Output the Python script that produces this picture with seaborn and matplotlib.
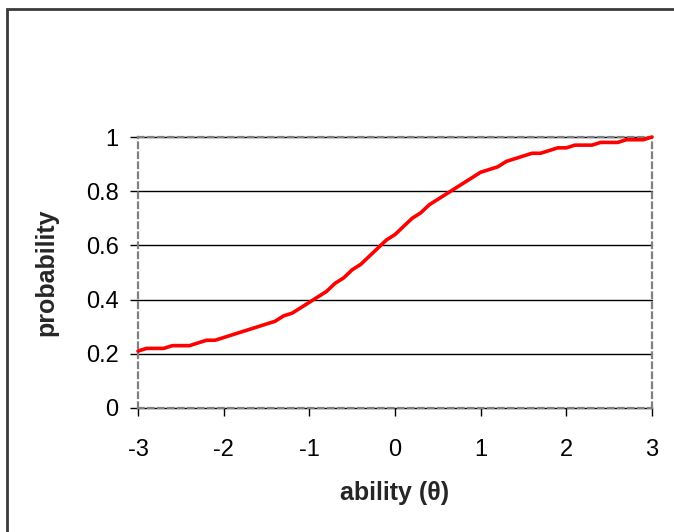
import matplotlib
matplotlib.use("Agg")
import matplotlib.pyplot as plt
import seaborn as sns
import pandas as pd
from matplotlib.patches import Rectangle

# --- Data: item characteristic curve ---
theta = [round(-3 + 0.1 * i, 1) for i in range(61)]
prob = [
    0.21, 0.22, 0.22, 0.22, 0.23, 0.23, 0.23, 0.24, 0.25, 0.25,   # -3.0 .. -2.1
    0.26, 0.27, 0.28, 0.29, 0.30, 0.31, 0.32, 0.34, 0.35, 0.37,   # -2.0 .. -1.1
    0.39, 0.41, 0.43, 0.46, 0.48, 0.51, 0.53, 0.56, 0.59, 0.62,   # -1.0 .. -0.1
    0.64, 0.67, 0.70, 0.72, 0.75, 0.77, 0.79, 0.81, 0.83, 0.85,   #  0.0 ..  0.9
    0.87, 0.88, 0.89, 0.91, 0.92, 0.93, 0.94, 0.94, 0.95, 0.96,   #  1.0 ..  1.9
    0.96, 0.97, 0.97, 0.97, 0.98, 0.98, 0.98, 0.99, 0.99, 0.99,   #  2.0 ..  2.9
    1.00,                                                         #  3.0
]
x_ticks = [-3, -2, -1, 0, 1, 2, 3]
y_ticks = [0, 0.2, 0.4, 0.6, 0.8, 1]
y_tick_labels = ["0", "0.2", "0.4", "0.6", "0.8", "1"]

df = pd.DataFrame({"theta": theta, "prob": prob})

sns.set_style("white")
plt.rcParams["font.family"] = ["Liberation Sans", "DejaVu Sans"]

fig = plt.figure(figsize=(6.74, 5.32), dpi=100)
ax = fig.add_axes([138 / 674, 1 - 408 / 532, (652 - 138) / 674, (408 - 137) / 532])

# outer chart frame (Excel chart area), cut off at right and bottom
fig.patches.append(Rectangle((7 / 674, -0.2), 1.2, 1.2 - 9 / 532,
                             transform=fig.transFigure, fill=False,
                             edgecolor="#3a3a3a", lw=2))

sns.lineplot(data=df, x="theta", y="prob", ax=ax, color="#ff0000",
             lw=2.6, clip_on=False, zorder=5)

ax.set_xlim(-3, 3)
ax.set_ylim(0, 1)
ax.set_xticks(x_ticks)
ax.set_xticklabels([str(t) for t in x_ticks])
ax.set_yticks(y_ticks)
ax.set_yticklabels(y_tick_labels)

ax.grid(axis="y", color="black", lw=1, ls="-")
ax.grid(axis="x", visible=False)
for gl in ax.get_ygridlines():
    gl.set_clip_on(False)

for side in ["left", "right", "top", "bottom"]:
    ax.spines[side].set_visible(True)
    ax.spines[side].set_color("#808080")
    ax.spines[side].set_linewidth(1.6)
    ax.spines[side].set_linestyle((0, (2.5, 2)))

ax.tick_params(axis="both", direction="out", length=6, width=1,
               color="black", labelsize=17, labelcolor="black")
ax.tick_params(axis="y", pad=8, left=True)
ax.tick_params(axis="x", pad=16, bottom=True)

ax.set_xlabel("ability (\u03b8)", fontsize=18, fontweight="bold", labelpad=15)
ax.set_ylabel("probability", fontsize=18, fontweight="bold", labelpad=20)

fig.savefig("out.png", dpi=100)
